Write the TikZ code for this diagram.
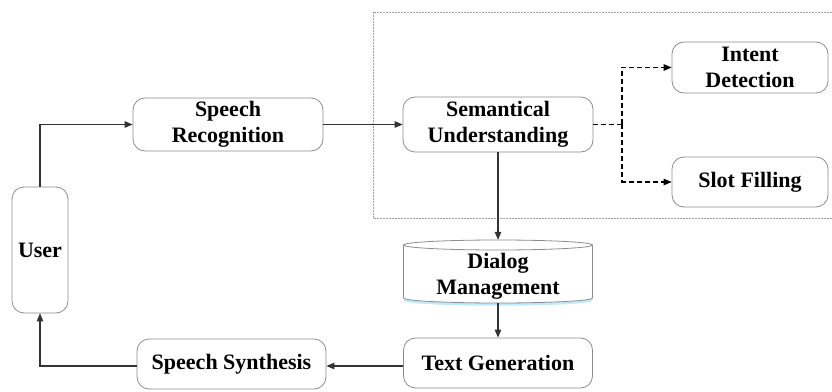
\documentclass[tikz,border=0pt]{standalone}
\usepackage{fontspec}
\setmainfont{Liberation Serif}
\usetikzlibrary{arrows.meta,calc}
\definecolor{boxgray}{HTML}{8C8C8C}
\definecolor{linegray}{HTML}{333333}
\definecolor{framegray}{HTML}{A0A0A0}
\begin{document}
\begin{tikzpicture}[x=1pt,y=1pt,
  lbl/.style={align=center, inner sep=0pt, font=\fontsize{22}{26}\selectfont\bfseries},
  box/.style={lbl, draw=boxgray, line width=0.8pt, rounded corners=12pt, fill=white},
  flow/.style={draw=linegray, line width=1.1pt, -{Triangle[length=8pt,width=6.5pt]}},
  dflow/.style={draw=black, line width=1.3pt, dash pattern=on 5pt off 3pt},
  frame/.style={draw=framegray, line width=0.7pt, dash pattern=on 2pt off 1pt}
]
\useasboundingbox (0,0) rectangle (832,391);

% dotted frame around the understanding stage
\draw[frame] (373,173) rectangle (845,379);

% main boxes
\node[box, minimum width=56pt, minimum height=126pt] (user) at (40,141) {User};
\node[box, minimum width=190pt, minimum height=53pt] (sr) at (228,266.5) {Speech\\Recognition};
\node[box, minimum width=190pt, minimum height=55pt] (su) at (498,266.5) {Semantical\\Understanding};
\node[box, minimum width=156pt, minimum height=51pt] (id) at (750,323.5) {Intent\\Detection};
\node[box, minimum width=156pt, minimum height=50pt] (sf) at (750,209) {Slot Filling};
\node[box, minimum width=189pt, minimum height=50pt] (tg) at (498,28) {Text Generation};
\node[box, minimum width=189pt, minimum height=50pt] (ss) at (231.5,27) {Speech Synthesis};

% dialog management cylinder
\node[minimum width=189pt, minimum height=63pt, inner sep=0pt] (dm) at (498,119.5) {};
\fill[white] (403.5,146) -- (403.5,93) arc[start angle=180,end angle=360,x radius=94.5,y radius=5]
  -- (592.5,146) arc[start angle=0,end angle=180,x radius=94.5,y radius=5] -- cycle;
\draw[cyan!25!white, line width=2.5pt] (404,91.5) arc[start angle=180,end angle=360,x radius=94,y radius=5];
\draw[boxgray, line width=0.8pt] (403.5,146) -- (403.5,93)
  arc[start angle=180,end angle=360,x radius=94.5,y radius=5] -- (592.5,146);
\draw[boxgray, line width=0.8pt] (498,146) ellipse[x radius=94.5,y radius=5];
\node[lbl] (dmtext) at ($(dm.center)+(0,-5)$) {Dialog\\Management};

% connectors
\coordinate (split) at (622,266.5);
\draw[flow] (user.north) |- (sr.west);
\draw[flow] (sr.east) -- (su.west);
\draw[dflow] (su.east) -- (split);
\draw[dflow, -{Triangle[length=8pt,width=6.5pt]}] (split) |- (id.west);
\draw[dflow, -{Triangle[length=8pt,width=6.5pt]}] (split) |- (sf.west);
\draw[flow] (su.south) -- (dm.north);
\draw[flow] (dm.south) -- (tg.north);
\draw[flow] ($(tg.west)+(0,-3)$) -- ($(ss.east)+(0,-2)$);
\draw[flow] ($(ss.west)+(0,-2)$) -| (user.south);
\end{tikzpicture}
\end{document}
